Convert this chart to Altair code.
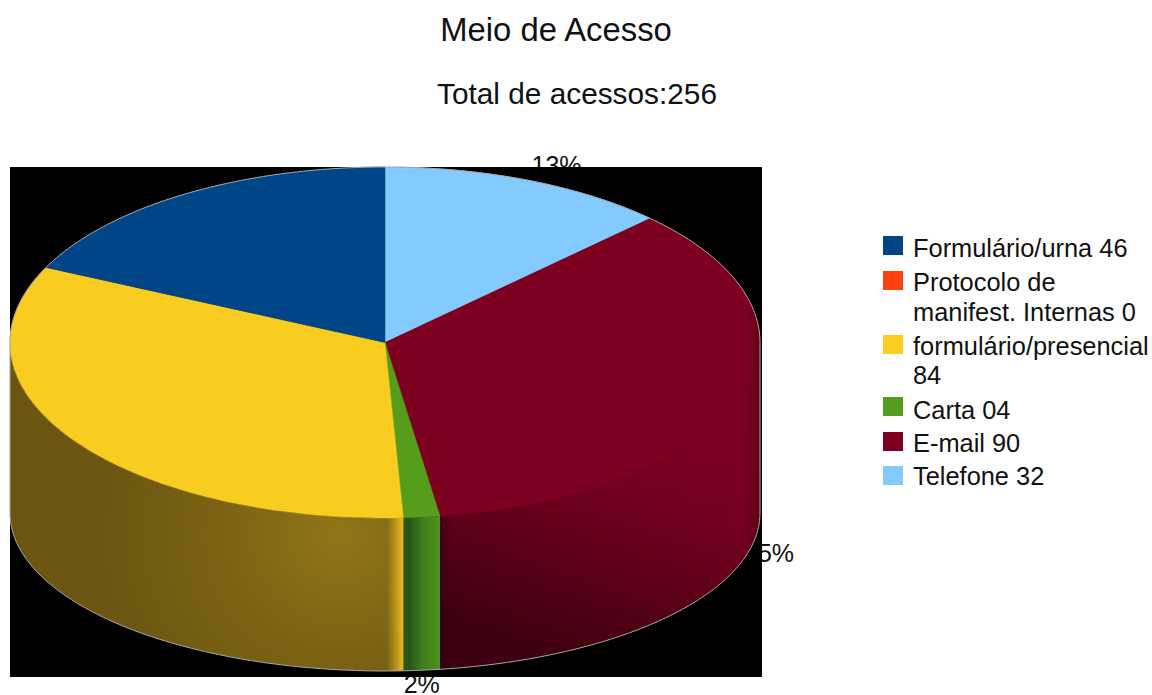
import math
import altair as alt
import pandas as pd

# Access channels, clockwise from twelve o'clock
slice_names = ["Telefone", "E-mail", "Carta", "formulário/presencial", "Protocolo", "Formulário/urna"]
slice_values = [32, 90, 4, 84, 0, 46]
slice_colors = ["#83CAFF", "#7E0021", "#579D1C", "#F9CD1F", "#FF420E", "#004586"]

legend_colors = ["#004586", "#FF420E", "#FBCE1F", "#579D1C", "#7E0021", "#83CAFF"]
legend_lines = [["Formulário/urna 46"], ["Protocolo de", "manifest. Internas 0"],
                ["formulário/presencial", "84"], ["Carta 04"], ["E-mail 90"], ["Telefone 32"]]

FONT = "Liberation Sans"
W, H = 1152, 695
CX, CY, RX, RY = 385, 342.5, 375, 175.5     # top face of the pie
BY, BRY = 513, 158                          # bottom rim of the wall

total = sum(slice_values)


def top_pt(t):
    return [CX + RX * math.sin(t), CY - RY * math.cos(t)]


def bot_pt(t):
    return [CX + RX * math.sin(t), BY - BRY * math.cos(t)]


def arc(fn, a, b, n=90):
    return [fn(a + (b - a) * i / n) for i in range(n + 1)]


def feature(kind, coords):
    return {"type": "Feature", "properties": {}, "geometry": {"type": kind, "coordinates": coords}}


def polygon(points):
    return feature("Polygon", [points + [points[0]]])


# Slice boundaries in radians
bounds = [0.0]
for v in slice_values:
    bounds.append(bounds[-1] + v / total * 2 * math.pi)

projection = alt.Projection(type="identity", scale=1, translate=[0, 0])


def shape(features, **mark):
    return alt.Chart(alt.Data(values=features)).mark_geoshape(**mark).project(**projection.to_dict())


def stops(*pairs):
    return [alt.GradientStop(offset=o, color=c) for o, c in pairs]


# Percentage labels sit beneath the black panel, which hides most of them
x_px = alt.Scale(domain=[0, W], range=[0, W])
y_px = alt.Scale(domain=[0, H], range=[0, H])
label_rows = []
label_nudge = [(28, -6), (28, -1), (0, 23), (-20, 22), (0, 0), (-20, 30)]
for i, v in enumerate(slice_values):
    if v == 0:
        continue
    mid = (bounds[i] + bounds[i + 1]) / 2
    base = top_pt(mid) if math.cos(mid) > 0 else bot_pt(mid)
    label_rows.append({
        "text": f"{math.floor(v / total * 100 + 0.5)}%",
        "x": base[0] + label_nudge[i][0],
        "y": base[1] + label_nudge[i][1],
    })
pct_labels = alt.Chart(pd.DataFrame(label_rows)).mark_text(
    font=FONT, fontSize=25, color="#111111", align="center", baseline="alphabetic"
).encode(
    x=alt.X("x:Q", scale=x_px, axis=None),
    y=alt.Y("y:Q", scale=y_px, axis=None),
    text="text:N",
)

panel = alt.Chart(pd.DataFrame({"a": [0]})).mark_rect(color="#000000").encode(
    x=alt.value(10), x2=alt.value(762), y=alt.value(167), y2=alt.value(677)
)

# Side wall of the pie, shaded towards the lower left of each slice
HALF, END = math.pi / 2, 3 * math.pi / 2
wall_email = shape(
    [polygon(arc(top_pt, HALF, bounds[2]) + arc(bot_pt, bounds[2], HALF))],
    fill=alt.Gradient(
        gradient="linear", x1=0.8, y1=0.1, x2=0.5, y2=1,
        stops=stops((0, "#7E0021"), (0.25, "#7B0020"), (0.48, "#6F001D"), (0.74, "#580017"), (1, "#3E0010")),
    ),
)
# Dark seam on the red wall next to the green one
seam_t = bounds[2] - 0.03
seam_email = shape(
    [polygon(arc(top_pt, seam_t, bounds[2], 8) + arc(bot_pt, bounds[2], seam_t, 8))],
    fill=alt.Gradient(
        gradient="linear", x1=0, y1=0, x2=1, y2=0,
        stops=stops((0, "rgba(40,0,10,0.55)"), (1, "rgba(40,0,10,0)")),
    ),
)
wall_carta = shape(
    [polygon(arc(top_pt, bounds[2], bounds[3], 12) + arc(bot_pt, bounds[3], bounds[2], 12))],
    fill=alt.Gradient(
        gradient="linear", x1=1, y1=0, x2=0, y2=0,
        stops=stops((0, "#4C921B"), (0.45, "#3F7F1A"), (0.85, "#275519"), (1, "#2A5A1A")),
    ),
)
wall_presencial = shape(
    [polygon(arc(top_pt, bounds[3], END) + arc(bot_pt, END, bounds[3]))],
    fill=alt.Gradient(
        gradient="radial", x1=0.84, y1=0.57, r1=0, x2=0.84, y2=0.57, r2=0.62,
        stops=stops((0, "#907519"), (0.5, "#7B6213"), (1, "#6B5510")),
    ),
)
# Bright rim where the yellow wall meets the green one
rim_t = math.pi - 0.005
rim_presencial = shape(
    [polygon(arc(top_pt, bounds[3], rim_t, 12) + arc(bot_pt, rim_t, bounds[3], 12))],
    fill=alt.Gradient(
        gradient="linear", x1=1, y1=0, x2=0, y2=0,
        stops=stops((0, "rgba(232,188,32,1)"), (1, "rgba(232,188,32,0)")),
    ),
)

# Top face: one elliptical sector per slice
tops = []
for i, v in enumerate(slice_values):
    if v == 0:
        continue
    pts = [[CX, CY]] + arc(top_pt, bounds[i], bounds[i + 1])
    tops.append(shape([polygon(pts)], fill=slice_colors[i], stroke=slice_colors[i], strokeWidth=0.5))

# Soft darkening along the far right edge of the drum
edge_a = math.radians(65)
edge_shade = shape(
    [polygon(arc(top_pt, edge_a, HALF, 40) + arc(bot_pt, HALF, math.pi - edge_a, 40))],
    fill=alt.Gradient(
        gradient="linear", x1=0, y1=0, x2=1, y2=0,
        stops=stops((0, "rgba(30,0,8,0)"), (0.55, "rgba(30,0,8,0)"), (1, "rgba(30,0,8,0.25)")),
    ),
)

# Thin pale outline around the whole silhouette
outline = shape(
    [feature("LineString",
             arc(top_pt, END, 2.5 * math.pi, 200)
             + arc(bot_pt, HALF, END, 200)
             + [top_pt(END)])],
    filled=False, stroke="#A8A8A8", strokeWidth=1,
)

titles = alt.Chart(pd.DataFrame({
    "text": ["Meio de Acesso", "Total de acessos:256"],
    "x": [556, 577],
    "y": [41, 104],
    "size": [32.8, 29.8],
})).mark_text(font=FONT, color="#111111", align="center", baseline="alphabetic").encode(
    x=alt.X("x:Q", scale=x_px, axis=None),
    y=alt.Y("y:Q", scale=y_px, axis=None),
    text="text:N",
    size=alt.Size("size:Q", scale=None, legend=None),
)

# Legend drawn by hand so that wrapped entries keep their swatch on the first line
swatch_tops = [236, 271, 335, 397, 432, 466]
line_baselines = [[257], [291, 321], [355, 384], [419], [452], [485]]
swatch_rows = [{"x": 883, "x2": 903, "y": t, "y2": t + 19, "c": c} for t, c in zip(swatch_tops, legend_colors)]
swatches = alt.Chart(pd.DataFrame(swatch_rows)).mark_rect().encode(
    x=alt.X("x:Q", scale=x_px, axis=None),
    x2="x2:Q",
    y=alt.Y("y:Q", scale=y_px, axis=None),
    y2="y2:Q",
    color=alt.Color("c:N", scale=None, legend=None),
)
text_rows = [{"text": s, "x": 913, "y": y}
             for lines, ys in zip(legend_lines, line_baselines) for s, y in zip(lines, ys)]
legend_text = alt.Chart(pd.DataFrame(text_rows)).mark_text(
    font=FONT, fontSize=25.4, color="#111111", align="left", baseline="alphabetic"
).encode(
    x=alt.X("x:Q", scale=x_px, axis=None),
    y=alt.Y("y:Q", scale=y_px, axis=None),
    text="text:N",
)

chart = alt.layer(
    pct_labels, panel, wall_email, seam_email, wall_carta, wall_presencial, rim_presencial, *tops,
    edge_shade, outline, titles, swatches, legend_text,
).properties(
    width=W, height=H, padding=0, autosize=alt.AutoSizeParams(type="none"), background="#FFFFFF"
).configure_view(stroke=None)

chart.save("out.html", embed_options={"renderer": "svg", "actions": False})
